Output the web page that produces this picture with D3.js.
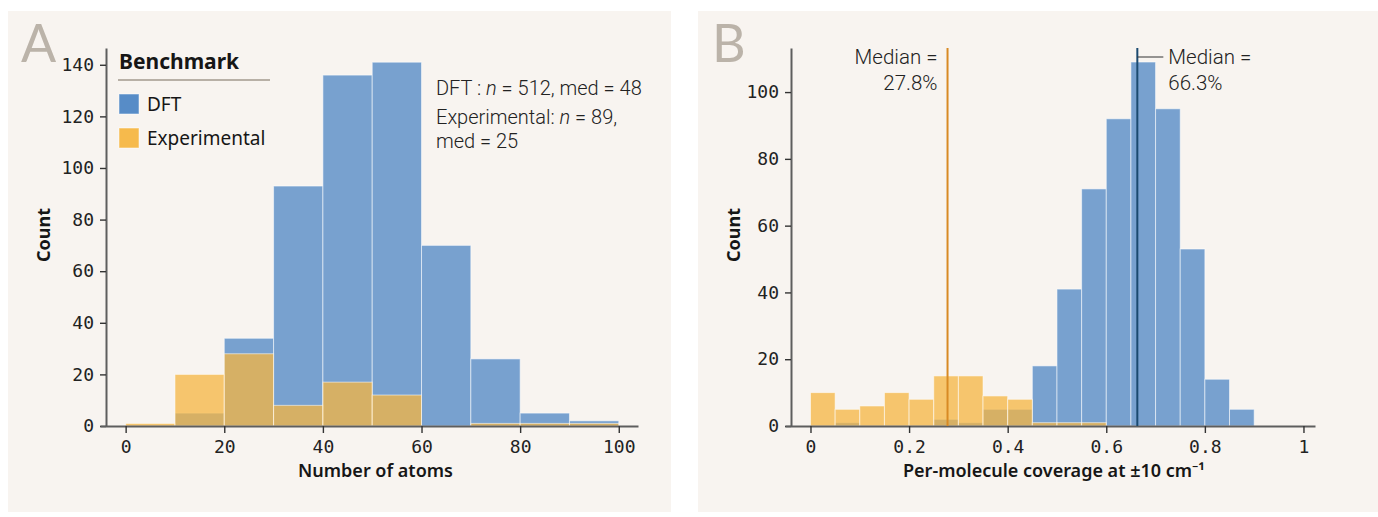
<!DOCTYPE html>
<html>
<head>
<meta charset="utf-8">
<script src="https://cdn.jsdelivr.net/npm/d3@7"></script>
<style>
  body { margin: 0; background: #ffffff; }
  svg { display: block; }
  .tick text { font-family: "DejaVu Sans Mono", monospace; font-size: 18px; fill: #222; }
  .lbl { font-family: "Noto Sans", Lato, sans-serif; fill: #161616; }
  .note { font-family: Roboto, sans-serif; font-weight: 300; fill: #222; }
</style>
</head>
<body>
<svg id="chart" width="1378" height="517"></svg>
<script>
// ---- Panel A: molecule size (number of atoms), bins of width 10 ----
const atomBinStarts = [0, 10, 20, 30, 40, 50, 60, 70, 80, 90];
const atomBinWidth = 10;
const atomsDFT = [0, 5, 34, 93, 136, 141, 70, 26, 5, 2];
const atomsExp = [1, 20, 28, 8, 17, 12, 0, 1, 1, 1];
const atomTicks = [0, 20, 40, 60, 80, 100];
const countTicksA = [0, 20, 40, 60, 80, 100, 120, 140];

// ---- Panel B: per-molecule coverage, bins of width 0.05 ----
const coverageBinStarts = [0, 0.05, 0.10, 0.15, 0.20, 0.25, 0.30, 0.35, 0.40, 0.45,
                           0.50, 0.55, 0.60, 0.65, 0.70, 0.75, 0.80, 0.85, 0.90, 0.95];
const coverageBinWidth = 0.05;
const coverageDFT = [0, 1, 0, 0, 0, 2, 1, 5, 5, 18, 41, 71, 92, 109, 95, 53, 14, 5, 0, 0];
const coverageExp = [10, 5, 6, 10, 8, 15, 15, 9, 8, 1, 1, 1, 0, 0, 0, 0, 0, 0, 0, 0];
const coverageTicks = [0, 0.2, 0.4, 0.6, 0.8, 1];
const countTicksB = [0, 20, 40, 60, 80, 100];

// Medians of coverage per benchmark
const medianSeries = ["Experimental", "DFT"];
const medianValues = [0.278, 0.663];
const medianLabels = ["27.8%", "66.3%"];

// Series metadata
const seriesNames = ["DFT", "Experimental"];
const seriesColors = { DFT: "#4e86c4", Experimental: "#f5b642" };
const medianColors = { DFT: "#1b4a70", Experimental: "#d88a24" };

const svg = d3.select("#chart");
const bgColor = "#f8f4f0";

function drawPanel(cfg) {
  const g = svg.append("g");

  g.append("rect")
    .attr("x", cfg.bg[0]).attr("y", cfg.bg[1])
    .attr("width", cfg.bg[2]).attr("height", cfg.bg[3])
    .attr("fill", bgColor);

  // panel letter
  g.append("text")
    .attr("x", cfg.letterPos[0]).attr("y", cfg.letterPos[1])
    .attr("font-family", "Lato, sans-serif")
    .attr("font-size", 52).attr("fill", "#bbb3a9")
    .text(cfg.letter);

  const x = d3.scaleLinear().domain(cfg.xDomain).range(cfg.xRange);
  const y = d3.scaleLinear().domain(cfg.yDomain).range(cfg.yRange);

  // bars: DFT underneath, Experimental on top, both translucent
  const layers = [
    { name: "DFT", values: cfg.dft },
    { name: "Experimental", values: cfg.exp }
  ];
  layers.forEach(layer => {
    const rows = cfg.binStarts.map((b, i) => ({ x0: b, x1: b + cfg.binWidth, n: layer.values[i] }))
      .filter(d => d.n > 0);
    g.append("g").selectAll("rect").data(rows).join("rect")
      .attr("x", d => x(d.x0))
      .attr("width", d => x(d.x1) - x(d.x0))
      .attr("y", d => y(d.n))
      .attr("height", d => y(0) - y(d.n))
      .attr("fill", seriesColors[layer.name])
      .attr("fill-opacity", 0.75)
      .attr("stroke", "#ffffff")
      .attr("stroke-opacity", 0.55)
      .attr("stroke-width", 1);
  });

  // axes
  const yAxis = d3.axisLeft(y).tickValues(cfg.yTicks).tickSize(6).tickPadding(6).tickSizeOuter(0)
    .tickFormat(d3.format("d"));
  const yg = g.append("g").attr("transform", `translate(${cfg.yAxisX},0)`).call(yAxis);

  const xAxis = d3.axisBottom(x).tickValues(cfg.xTicks).tickSize(7).tickPadding(7).tickSizeOuter(0)
    .tickFormat(cfg.xFormat);
  const xg = g.append("g").attr("transform", `translate(0,${y(0)})`).call(xAxis);

  [yg, xg].forEach(ax => {
    ax.select(".domain").attr("stroke", "#5e5e5e").attr("stroke-width", 2);
    ax.selectAll(".tick line").attr("stroke", "#333").attr("stroke-width", 1.4);
    ax.attr("font-family", null).attr("font-size", null);
  });

  // axis titles
  g.append("text").attr("class", "lbl")
    .attr("transform", `translate(${cfg.yTitlePos[0]},${cfg.yTitlePos[1]}) rotate(-90)`)
    .attr("text-anchor", "middle").attr("font-size", 18).attr("font-weight", 700)
    .text("Count");
  g.append("text").attr("class", "lbl")
    .attr("x", cfg.xTitlePos[0]).attr("y", cfg.xTitlePos[1])
    .attr("text-anchor", "middle").attr("font-size", 18).attr("font-weight", 600)
    .text(cfg.xTitle);

  return { g, x, y };
}

// ---------- Panel A ----------
const A = drawPanel({
  bg: [8, 11, 663, 501],
  letter: "A", letterPos: [21, 62],
  xDomain: [-5.2, 103.9], xRange: [100, 638],
  yDomain: [0, 146.5], yRange: [426, 48],
  yAxisX: 106,
  binStarts: atomBinStarts, binWidth: atomBinWidth,
  dft: atomsDFT, exp: atomsExp,
  xTicks: atomTicks, yTicks: countTicksA,
  xFormat: d3.format("d"),
  xTitle: "Number of atoms",
  yTitlePos: [50, 235], xTitlePos: [375.5, 477]
});

// legend
const leg = A.g.append("g").attr("transform", "translate(119,0)");
leg.append("text").attr("class", "lbl").attr("x", 0).attr("y", 69)
  .attr("font-size", 21).attr("font-weight", 700).text("Benchmark");
leg.append("line").attr("x1", -1).attr("x2", 151).attr("y1", 80).attr("y2", 80)
  .attr("stroke", "#b8b0a6").attr("stroke-width", 2);
seriesNames.forEach((name, i) => {
  const row = leg.append("g").attr("transform", `translate(0,${94 + i * 34})`);
  row.append("rect").attr("width", 20).attr("height", 20)
    .attr("fill", seriesColors[name]).attr("fill-opacity", 0.95)
    .attr("stroke", "#ffffff").attr("stroke-opacity", 0.5);
  row.append("text").attr("class", "lbl").attr("x", 28).attr("y", 17)
    .attr("font-size", 19).text(name);
});

// summary note
const noteLines = [
  [["DFT : ", false], ["n", true], [" = 512, med = 48", false]],
  [["Experimental: ", false], ["n", true], [" = 89,", false]],
  [["med = 25", false]]
];
const noteBaselines = [95, 123.5, 147.5];
noteLines.forEach((parts, i) => {
  const t = A.g.append("text").attr("class", "note").attr("font-size", 20)
    .attr("x", 436).attr("y", noteBaselines[i]);
  parts.forEach(([s, it]) => {
    t.append("tspan").attr("font-style", it ? "italic" : null).text(s);
  });
});

// ---------- Panel B ----------
const B = drawPanel({
  bg: [698, 11, 680, 501],
  letter: "B", letterPos: [712, 62],
  xDomain: [-0.0517, 1.0234], xRange: [785, 1315],
  yDomain: [0, 113.2], yRange: [426, 48],
  yAxisX: 791,
  binStarts: coverageBinStarts, binWidth: coverageBinWidth,
  dft: coverageDFT, exp: coverageExp,
  xTicks: coverageTicks, yTicks: countTicksB,
  xFormat: d3.format("~g"),
  xTitle: "Per-molecule coverage at \u00B110 cm\u207B\u00B9",
  yTitlePos: [740, 235], xTitlePos: [1054, 477]
});

// median lines with labels
medianSeries.forEach((name, i) => {
  const mx = B.x(medianValues[i]);
  B.g.append("line")
    .attr("x1", mx).attr("x2", mx)
    .attr("y1", B.y.range()[1]).attr("y2", B.y(0))
    .attr("stroke", medianColors[name]).attr("stroke-width", 2);
  const left = i === 0;
  if (!left) {
    B.g.append("line").attr("x1", mx).attr("x2", mx + 26).attr("y1", 57).attr("y2", 57)
      .attr("stroke", "#333").attr("stroke-width", 1);
  }
  const tx = left ? mx - 10 : mx + 31;
  const t = B.g.append("text").attr("class", "note").attr("font-size", 20.5)
    .attr("text-anchor", left ? "end" : "start");
  t.append("tspan").attr("x", tx).attr("y", 64).text("Median =");
  t.append("tspan").attr("x", tx).attr("y", 90).text(medianLabels[i]);
});
</script>
</body>
</html>
